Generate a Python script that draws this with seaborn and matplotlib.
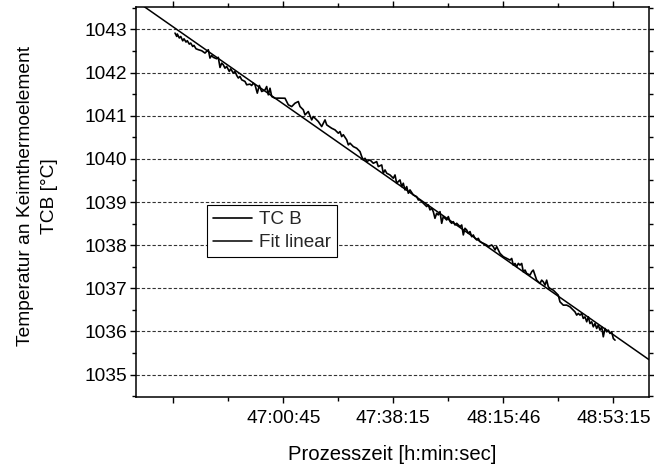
import numpy as np
import pandas as pd
import matplotlib
matplotlib.use("Agg")
import matplotlib.pyplot as plt
from matplotlib.ticker import FixedLocator, MultipleLocator
import seaborn as sns

# Process time in seconds since process start, and thermocouple TC B readings in °C
time_s = [
    167030, 167065, 167077, 167118, 167147, 167188, 167214, 167255, 167281, 167322,
    167351, 167392, 167418, 167459, 167506, 167576, 167643, 167678, 167711, 167745,
    167780, 167813, 167882, 167915, 167950, 167985, 168018, 168052, 168087, 168140,
    168169, 168222, 168257, 168292, 168325, 168359, 168394, 168461, 168496, 168564,
    168598, 168631, 168666, 168713, 168754,
    168803, 168871, 168905, 168938, 168973, 169008, 169075, 169143, 169212, 169280,
    169347, 169417, 169484, 169552, 169586, 169654, 169689, 169756, 169826, 169859,
    169961, 170030, 170098, 170133, 170235, 170302, 170370, 170405, 170439, 170472,
    170542, 170575, 170609, 170677, 170746, 170814, 170849, 170881, 170916, 170951,
    171018, 171086, 171155, 171188, 171258, 171290, 171325, 171360, 171427, 171462,
    171495, 171530, 171564, 171597, 171632, 171667, 171699, 171734, 171769, 171802,
    171836, 171904, 171973, 172006,
    172041, 172108, 172178, 172211, 172245, 172280, 172313, 172347, 172382, 172415,
    172450, 172485, 172517, 172552, 172587, 172620, 172655, 172689, 172722, 172757,
    172792, 172824, 172859, 172894, 172927, 172961, 172996, 173029, 173064, 173098,
    173131, 173166, 173201, 173233, 173268, 173336, 173405, 173438, 173508, 173540,
    173575, 173610, 173677,
    173745, 173814, 173882, 173917, 173949, 173984, 174019, 174052, 174086, 174121,
    174154, 174189, 174223, 174291, 174326, 174358, 174393, 174428, 174461, 174495,
    174530, 174563, 174598, 174632, 174665, 174700, 174767, 174837, 174869, 174904,
    174972, 175041, 175109,
    175144, 175177, 175211, 175246, 175279, 175314, 175349, 175381, 175416, 175451,
    175484, 175518, 175553, 175586, 175620, 175655, 175688, 175723, 175758, 175790,
    175825, 175860, 175893, 175927, 175962, 175995, 176030,
]

temp_tcb = [
    1042.915, 1042.838, 1042.894, 1042.801, 1042.837, 1042.736, 1042.783, 1042.707, 1042.739, 1042.660,
    1042.684, 1042.605, 1042.630, 1042.552, 1042.531, 1042.506, 1042.452, 1042.490, 1042.529, 1042.336,
    1042.397, 1042.353, 1042.321, 1042.353, 1042.119, 1042.219, 1042.181, 1042.102, 1042.143, 1042.027,
    1042.087, 1041.988, 1042.026, 1041.934, 1041.874, 1041.910, 1041.832, 1041.795, 1041.717, 1041.732,
    1041.700, 1041.755, 1041.716, 1041.523, 1041.702,
    1041.561, 1041.599, 1041.677, 1041.484, 1041.637, 1041.445, 1041.405, 1041.408, 1041.406, 1041.405,
    1041.253, 1041.212, 1041.290, 1041.329, 1041.213, 1041.137, 1041.019, 1041.097, 1040.903, 1040.981,
    1040.865, 1040.749, 1040.903, 1040.787, 1040.709, 1040.672, 1040.595, 1040.633, 1040.516, 1040.560,
    1040.440, 1040.324, 1040.364, 1040.284, 1040.246, 1040.168, 1040.053, 1039.976, 1040.014, 1039.938,
    1039.976, 1039.898, 1039.936, 1039.821, 1039.859, 1039.666, 1039.743, 1039.667, 1039.627, 1039.588,
    1039.551, 1039.627, 1039.433, 1039.474, 1039.511, 1039.357, 1039.435, 1039.280, 1039.357, 1039.203,
    1039.280, 1039.164, 1039.125, 1039.048,
    1039.048, 1038.972, 1038.894, 1038.933, 1038.817, 1038.854, 1038.776, 1038.622, 1038.739, 1038.700,
    1038.777, 1038.506, 1038.661, 1038.622, 1038.583, 1038.662, 1038.546, 1038.506, 1038.545, 1038.467,
    1038.507, 1038.469, 1038.430, 1038.467, 1038.237, 1038.391, 1038.351, 1038.274, 1038.315, 1038.196,
    1038.237, 1038.159, 1038.120, 1038.159, 1038.081, 1038.043, 1038.004, 1037.967, 1038.004, 1037.964,
    1037.888, 1037.965, 1037.809,
    1037.733, 1037.692, 1037.654, 1037.691, 1037.538, 1037.575, 1037.500, 1037.577, 1037.538, 1037.575,
    1037.382, 1037.423, 1037.344, 1037.307, 1037.383, 1037.422, 1037.305, 1037.189, 1037.151, 1037.112,
    1037.189, 1037.151, 1037.073, 1037.189, 1037.035, 1036.997, 1036.957, 1036.878, 1036.841, 1036.686,
    1036.609, 1036.610, 1036.570,
    1036.531, 1036.494, 1036.454, 1036.378, 1036.417, 1036.378, 1036.416, 1036.301, 1036.338, 1036.223,
    1036.339, 1036.183, 1036.223, 1036.107, 1036.183, 1036.068, 1036.147, 1036.030, 1036.105, 1035.875,
    1036.069, 1035.990, 1036.031, 1035.953, 1035.990, 1035.836, 1035.798,
]

# Linear fit T = a + b * t (t in s)
fit_intercept = 1175.40
fit_slope = -7.925e-4

# Axis ranges and ticks
x_range = (166232, 176725)
y_range = (1034.48, 1043.52)
xtick_s = [166995, 169245, 171495, 173746, 175995]
xtick_labels = ["", "47:00:45", "47:38:15", "48:15:46", "48:53:15"]
ytick_vals = [1035, 1036, 1037, 1038, 1039, 1040, 1041, 1042, 1043]

sns.set_style("ticks")
plt.rcParams["font.family"] = ["Liberation Sans", "DejaVu Sans"]

W, H = 654, 469
fig = plt.figure(figsize=(W / 100, H / 100), dpi=100)
ax = fig.add_axes([136 / W, 1 - 397 / H, (649 - 136) / W, (397 - 7) / H])

df_tc = pd.DataFrame({"t": time_s, "T": temp_tcb})
fit_t = np.array(x_range, dtype=float)
df_fit = pd.DataFrame({"t": fit_t, "T": fit_intercept + fit_slope * fit_t})

sns.lineplot(data=df_tc, x="t", y="T", color="black", lw=1.2, label="TC B", ax=ax)
sns.lineplot(data=df_fit, x="t", y="T", color="black", lw=1.1, label="Fit linear", ax=ax)

ax.set_xlim(*x_range)
ax.set_ylim(*y_range)

ax.xaxis.set_major_locator(FixedLocator(xtick_s))
ax.set_xticklabels(xtick_labels)
minor_x = [(a + b) / 2 for a, b in zip(xtick_s[:-1], xtick_s[1:])]
ax.xaxis.set_minor_locator(FixedLocator(minor_x))
ax.yaxis.set_major_locator(FixedLocator(ytick_vals))
ax.yaxis.set_minor_locator(MultipleLocator(0.5))
ax.set_yticklabels([str(v) for v in ytick_vals])

ax.yaxis.grid(True, which="major", linestyle=(0, (3, 1.8)), color="#333333", lw=0.8)
ax.xaxis.grid(False)

for side in ["left", "right", "top", "bottom"]:
    ax.spines[side].set_visible(True)
    ax.spines[side].set_color("black")
    ax.spines[side].set_linewidth(1.1)

ax.tick_params(axis="both", which="major", direction="out", length=4.5, width=1.0,
               color="black", labelsize=13.8, labelcolor="black")
ax.tick_params(axis="both", which="minor", direction="out", length=2.8, width=1.0, color="black")
ax.tick_params(axis="x", which="major", pad=5)
ax.tick_params(axis="y", which="major", pad=2)
ax.tick_params(top=True, right=True, which="both")
ax.tick_params(axis="x", which="both", top=True, labeltop=False)
ax.tick_params(axis="y", which="both", right=True, labelright=False)

ax.set_xlabel("Prozesszeit [h:min:sec]", fontsize=14.6, labelpad=13, color="black")
ax.set_ylabel("Temperatur an Keimthermoelement\nTCB [°C]", fontsize=13.8, labelpad=19,
              color="black", linespacing=1.5)
ax.yaxis.label.set_y(0.515)

leg = ax.legend(loc="upper left", bbox_to_anchor=((206.7 - 136) / 513, (397 - 205) / 390),
                borderaxespad=0, frameon=True, fancybox=False, edgecolor="black",
                fontsize=13.6, handlelength=2.1, handletextpad=0.35, borderpad=0.32,
                labelspacing=0.3)
leg.get_frame().set_linewidth(0.8)
leg.get_frame().set_facecolor("white")
leg.get_frame().set_alpha(1)

fig.savefig("out.png", dpi=100, facecolor="white")
